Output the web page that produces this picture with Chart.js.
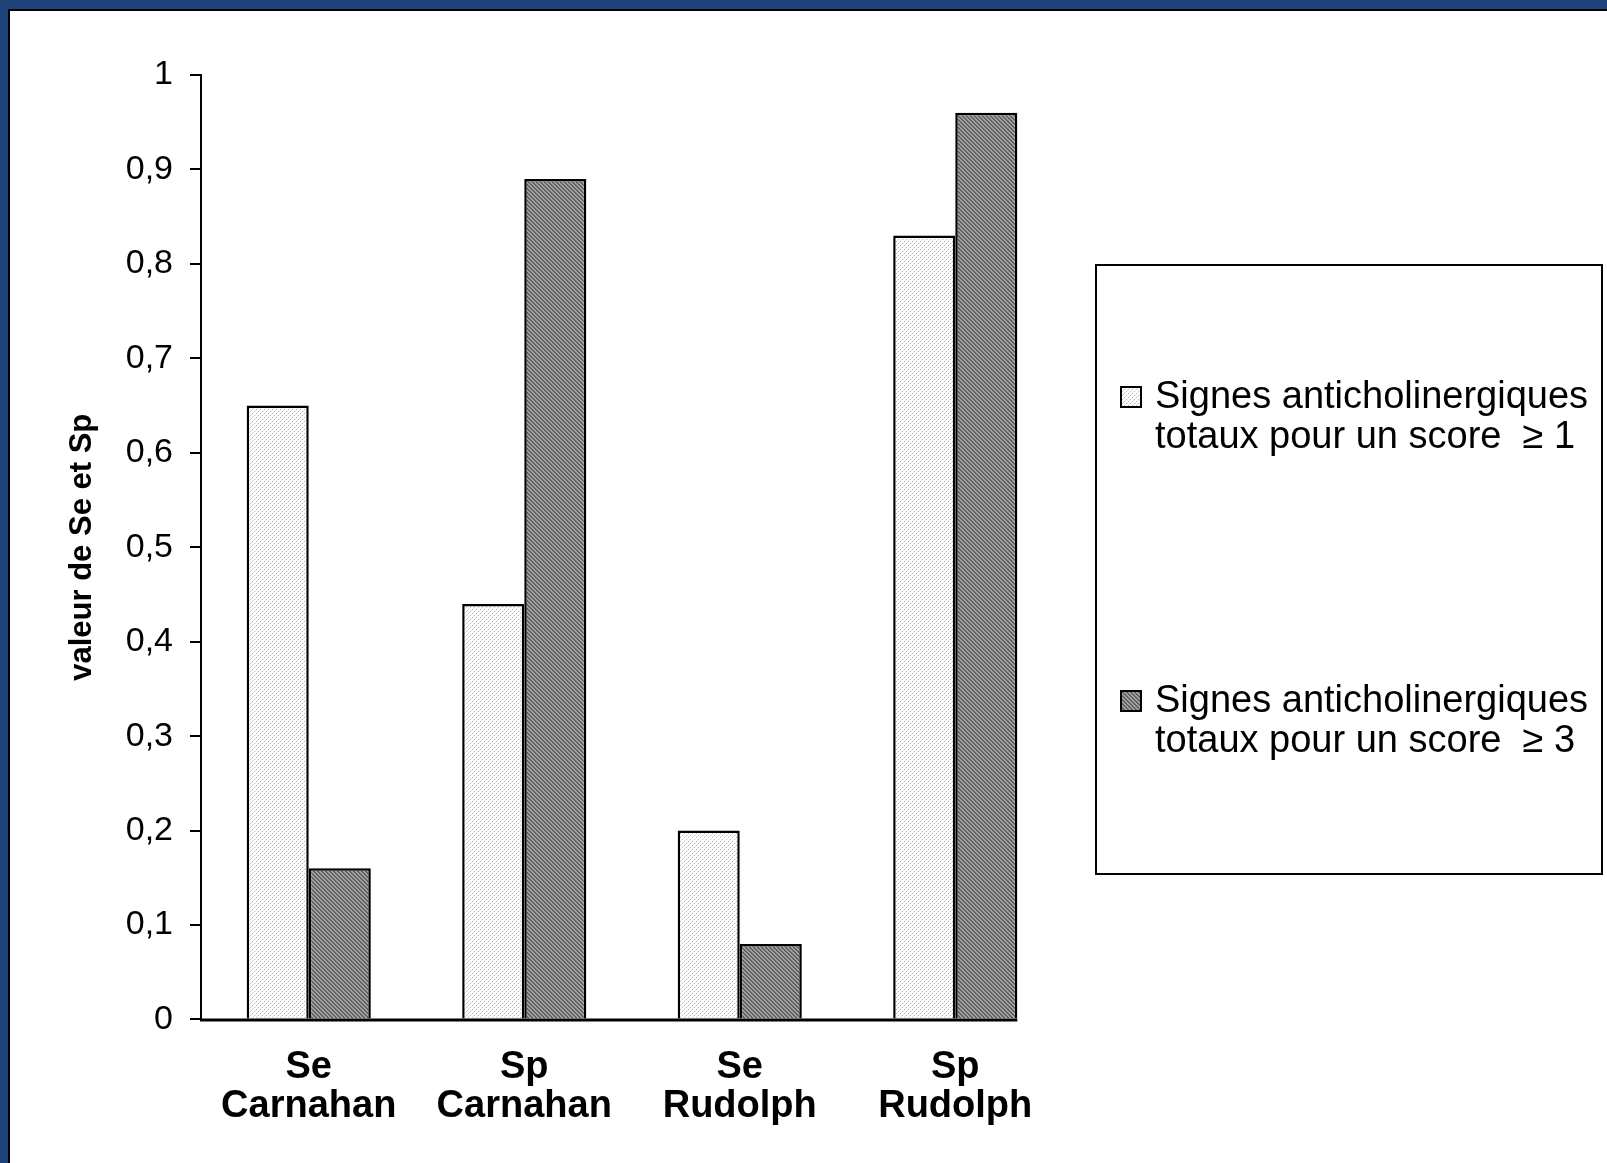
<!DOCTYPE html>
<html>
<head>
<meta charset="utf-8">
<title>Se et Sp</title>
<script src="https://cdn.jsdelivr.net/npm/chart.js@4/dist/chart.umd.min.js"></script>
<style>
  html, body { margin: 0; padding: 0; background: #1E4279; overflow: hidden; }
  #frame {
    position: absolute; left: 8px; top: 9px; width: 1599px; height: 1154px;
    background: #fff; border-left: 2px solid #000; border-top: 2px solid #000;
  }
  #myChart { display: block; }
</style>
</head>
<body>
<div id="frame"><canvas id="myChart" width="1597" height="1152"></canvas></div>

<script>
// data
var categories = [['Se', 'Carnahan'], ['Sp', 'Carnahan'], ['Se', 'Rudolph'], ['Sp', 'Rudolph']];
var score1 = [0.65, 0.44, 0.20, 0.83];
var score3 = [0.16, 0.89, 0.08, 0.96];
var label1 = ['Signes anticholinergiques', 'totaux pour un score  \u2265 1'];
var label3 = ['Signes anticholinergiques', 'totaux pour un score  \u2265 3'];
var yTicks = [0, 0.1, 0.2, 0.3, 0.4, 0.5, 0.6, 0.7, 0.8, 0.9, 1];

function makePattern(kind) {
  var c = document.createElement('canvas');
  c.width = 4; c.height = 4;
  var g = c.getContext('2d');
  if (kind === 'dots') {
    g.fillStyle = '#ffffff'; g.fillRect(0, 0, 4, 4);
    g.fillStyle = '#bcbcbc'; g.fillRect(0, 0, 1, 1); g.fillRect(2, 2, 1, 1);
    g.fillStyle = '#e2e2e2'; g.fillRect(1, 3, 1, 1); g.fillRect(3, 1, 1, 1);
  } else {
    for (var i = 0; i < 4; i++) {
      for (var k = 0; k < 4; k++) {
        g.fillStyle = k < 2 ? '#606060' : '#a2a2a2';
        g.fillRect(i, (i + k) % 4, 1, 1);
      }
    }
  }
  return g.createPattern(c, 'repeat');
}
var lightFill = makePattern('dots');
var darkFill = makePattern('hatch');

// x axis line stops at the right edge of the last bar
var axisLine = {
  id: 'axisLine',
  afterDatasetsDraw: function(chart) {
    var ctx = chart.ctx, area = chart.chartArea;
    var meta = chart.getDatasetMeta(chart.data.datasets.length - 1);
    var last = meta.data[meta.data.length - 1];
    var right = last.x + last.width / 2;
    ctx.save();
    ctx.strokeStyle = '#000'; ctx.lineWidth = 3;
    ctx.beginPath();
    ctx.moveTo(area.left - 1, area.bottom + 0.5);
    ctx.lineTo(right, area.bottom + 0.5);
    ctx.stroke();
    ctx.restore();
  }
};

// boxed legend on the right
var boxLegend = {
  id: 'boxLegend',
  afterDraw: function(chart) {
    var ctx = chart.ctx;
    var bx = 1086, by = 254, bw = 506, bh = 609;
    ctx.save();
    ctx.strokeStyle = '#000'; ctx.lineWidth = 2;
    ctx.strokeRect(bx, by, bw, bh);
    ctx.font = '38px "Liberation Sans", Arial, sans-serif';
    ctx.textBaseline = 'middle';
    ctx.fillStyle = '#000';
    var rows = [376, 680];
    chart.data.datasets.forEach(function(ds, i) {
      var y = rows[i];
      ctx.fillStyle = ds.backgroundColor;
      ctx.fillRect(bx + 25, y, 20, 20);
      ctx.strokeStyle = '#000'; ctx.lineWidth = 2;
      ctx.strokeRect(bx + 25, y, 20, 20);
      ctx.fillStyle = '#000';
      ds.label.forEach(function(line, j) {
        ctx.fillText(line, bx + 59, y + 11 + j * 40);
      });
    });
    ctx.restore();
  }
};

var ctx = document.getElementById('myChart').getContext('2d');
var myChart = new Chart(ctx, {
  type: 'bar',
  data: {
    labels: categories,
    datasets: [{
      label: label1,
      data: score1,
      backgroundColor: lightFill,
      borderColor: '#000',
      borderWidth: 2.5
    }, {
      label: label3,
      data: score3,
      backgroundColor: darkFill,
      borderColor: '#000',
      borderWidth: 2.5
    }]
  },
  options: {
    responsive: false,
    animation: false,
    devicePixelRatio: 1,
    datasets: { bar: { categoryPercentage: 0.576, barPercentage: 1.0 } },
    layout: { padding: { left: 0, top: 64, right: 544, bottom: 8 } },
    plugins: { legend: { display: false }, tooltip: { enabled: false } },
    scales: {
      x: {
        offset: true,
        grid: { display: false, drawTicks: false },
        border: { display: false },
        ticks: {
          color: '#000', padding: 29, maxRotation: 0, autoSkip: false,
          font: { family: '"Liberation Sans", Arial, sans-serif', size: 38, weight: 'bold', lineHeight: 1.02 }
        }
      },
      y: {
        min: 0, max: 1,
        afterFit: function(s) { s.width = 191; },
        afterBuildTicks: function(s) { s.ticks = yTicks.map(function(v) { return { value: v }; }); },
        grid: { drawOnChartArea: false, drawTicks: true, tickLength: 11, color: '#000', lineWidth: 2 },
        border: { display: true, color: '#000', width: 2 },
        ticks: {
          color: '#000', padding: 17,
          font: { family: '"Liberation Sans", Arial, sans-serif', size: 34 },
          callback: function(v) { return String(Math.round(v * 10) / 10).replace('.', ','); }
        },
        title: {
          display: true, text: 'valeur de Se et Sp', color: '#000',
          padding: { top: 54, bottom: 0 },
          font: { family: '"Liberation Sans", Arial, sans-serif', size: 31, weight: 'bold' }
        }
      }
    }
  },
  plugins: [axisLine, boxLegend]
});
</script>
</body>
</html>
